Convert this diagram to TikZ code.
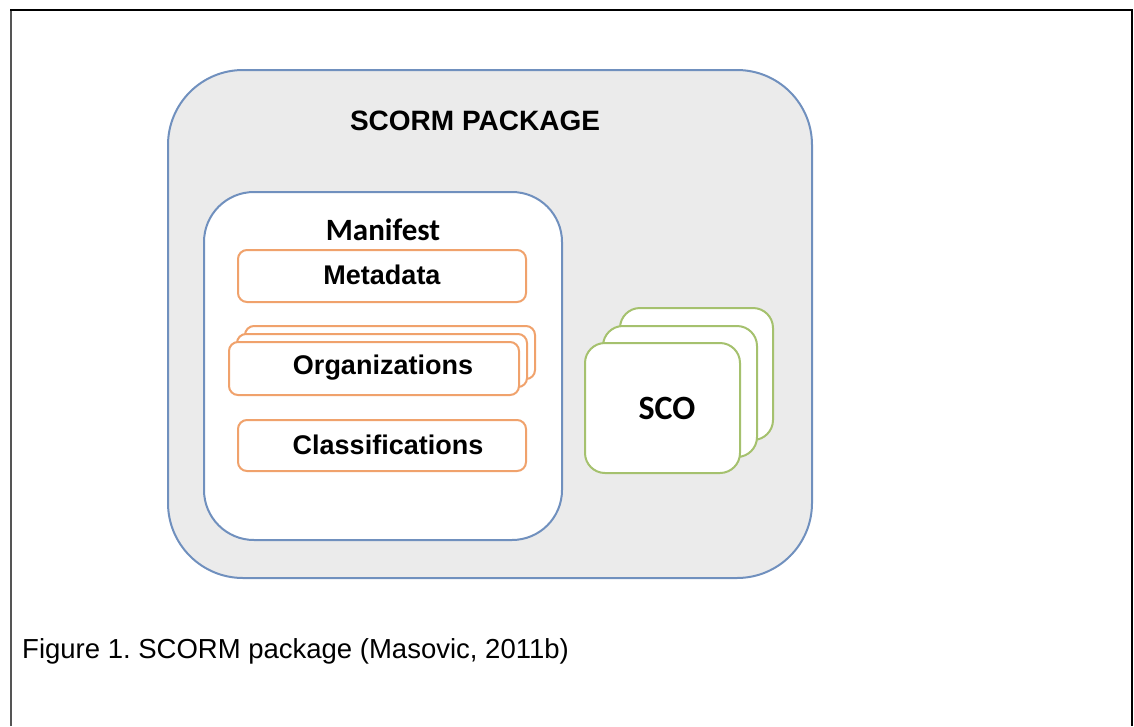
\documentclass[tikz,border=0pt]{standalone}
\usepackage{fontspec}
\setmainfont{Liberation Sans}
\newfontfamily\calibri{Carlito}
\frenchspacing
\definecolor{pkgfill}{HTML}{EBEBEB}
\definecolor{pkgblue}{HTML}{7090BE}
\definecolor{itemorange}{HTML}{F0A26C}
\definecolor{scogreen}{HTML}{A5C16E}
\definecolor{framegray}{HTML}{555555}
\tikzset{
  pkgbox/.style={draw=pkgblue, line width=2pt, rounded corners=#1},
  itembox/.style={draw=itemorange, fill=white, line width=2pt, rounded corners=9pt},
  scobox/.style={draw=scogreen, fill=white, line width=2pt, rounded corners=20pt},
  itemlabel/.style={font=\fontsize{27}{30}\selectfont\bfseries, inner sep=0pt},
  calibrilabel/.style={font=\calibri\fontsize{#1}{#1}\selectfont\bfseries, inner sep=0pt}
}
\begin{document}
\begin{tikzpicture}[x=1pt, y=-1pt]
\useasboundingbox (0,0) rectangle (1134,726);
% page frame (open at the bottom)
\draw[framegray, line width=2pt] (11,726) -- (11,10);
\draw[black, line width=1.5pt] (10,10) -- (1132,10) -- (1132,726);

% SCORM package container
\draw[pkgbox=75pt, fill=pkgfill] (168,70) rectangle (812,578);
\node[font=\fontsize{28}{30}\selectfont\bfseries, inner sep=0pt] (pkg) at (475,121) {SCORM PACKAGE};

% manifest
\draw[pkgbox=50pt, fill=white] (204,192) rectangle (562,540);
\node[calibrilabel=31] (manifest) at (383,230) {Manifest};

\draw[itembox] (238,250) rectangle (526,302);
\node[itemlabel] (meta) at (382,275) {Metadata};

\draw[itembox] (245,326) rectangle (535,379);
\draw[itembox] (237,334) rectangle (527,387);
\draw[itembox] (229,342) rectangle (519,395);
\node[itemlabel] (org) at (383,368) {Organizations};

\draw[itembox] (238,420) rectangle (526,471);
\node[itemlabel] (class) at (388,445) {Classifications};

% sharable content objects
\draw[scobox] (620,308) rectangle (773,440);
\draw[scobox] (603,326) rectangle (757,457);
\draw[scobox] (585,343) rectangle (740,473);
\node[calibrilabel=34] (sco) at (667,408) {SCO};

% caption
\node[anchor=west, font=\fontsize{27.5}{30}\selectfont, inner sep=0pt] (cap) at (22,651) {Figure 1. SCORM package (Masovic, 2011b)};
\end{tikzpicture}
\end{document}
